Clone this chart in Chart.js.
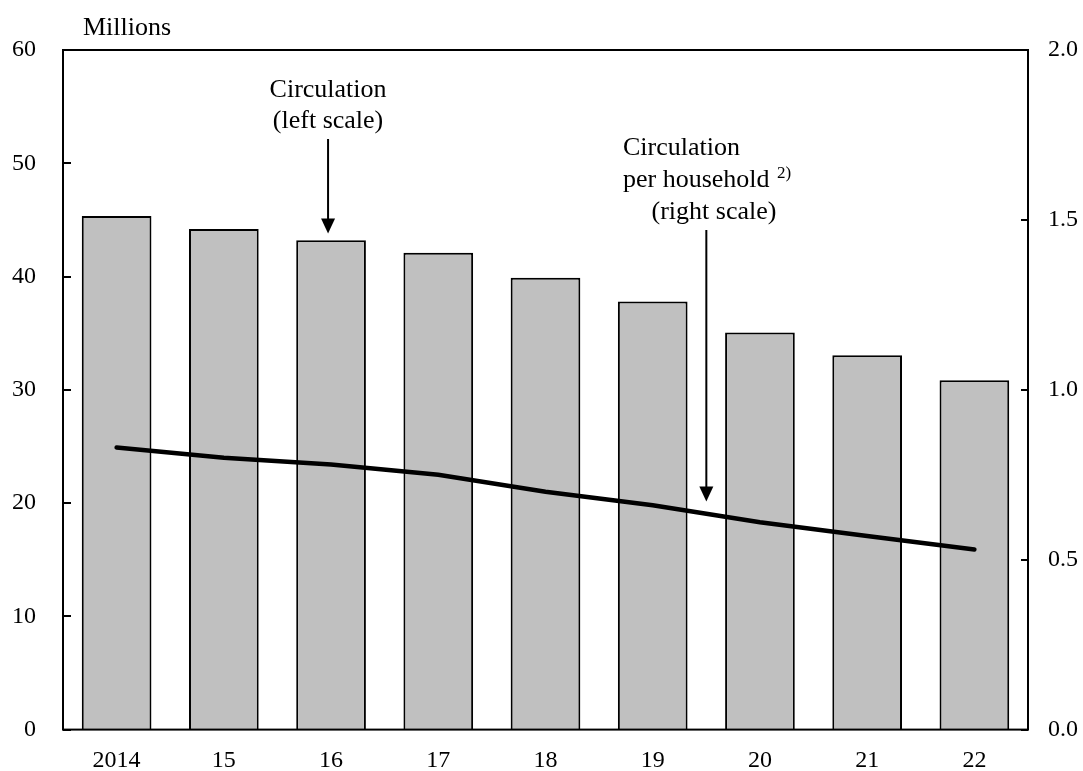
<!DOCTYPE html>
<html>
<head>
<meta charset="utf-8">
<script src="https://cdn.jsdelivr.net/npm/chart.js@4/dist/chart.umd.min.js"></script>
<style>
  html, body { margin: 0; padding: 0; background: #fff; }
  #wrap { width: 1083px; height: 771px; }
</style>
</head>
<body>
<div id="wrap"><canvas id="chart" width="1083" height="771"></canvas></div>
<script>
/* ---- Данные ---- */
const YEARS = ["2014", "15", "16", "17", "18", "19", "20", "21", "22"];
const CIRCULATION = [45.35, 44.2, 43.2, 42.1, 39.9, 37.8, 35.05, 33.05, 30.85];   // млн, левая шкала
const PER_HOUSEHOLD = [0.83, 0.80, 0.78, 0.75, 0.70, 0.66, 0.61, 0.57, 0.53];    // правая шкала
const LEFT_TICKS = [0, 10, 20, 30, 40, 50, 60];
const RIGHT_TICKS = [0, 0.5, 1.0, 1.5, 2.0];

const FONT = "Liberation Serif, Times New Roman, serif";

/* ---- Рамка, засечки внутрь, подписи и стрелки ---- */
const decor = {
  id: "decor",
  afterDraw(chart) {
    const ctx = chart.ctx;
    const a = chart.chartArea;
    const x = chart.scales.x, yl = chart.scales.y, yr = chart.scales.y1;
    ctx.save();
    ctx.strokeStyle = "#000";
    ctx.lineWidth = 2;
    ctx.strokeRect(a.left, a.top, a.right - a.left, a.bottom - a.top);

    // засечки
    LEFT_TICKS.forEach(v => {
      const py = Math.round(yl.getPixelForValue(v));
      ctx.beginPath(); ctx.moveTo(a.left, py); ctx.lineTo(a.left + 8, py); ctx.stroke();
    });
    RIGHT_TICKS.forEach(v => {
      const py = Math.round(yr.getPixelForValue(v));
      ctx.beginPath(); ctx.moveTo(a.right, py); ctx.lineTo(a.right - 7, py); ctx.stroke();
    });

    ctx.fillStyle = "#000";
    ctx.font = "26px " + FONT;
    ctx.textBaseline = "middle";
    ctx.textAlign = "left";
    ctx.fillText("Millions", 83, 28);

    // стрелка 1: Circulation (left scale)
    const x1 = x.getPixelForValue(2) - 3;
    ctx.textAlign = "center";
    ctx.fillText("Circulation", x1, 90);
    ctx.fillText("(left scale)", x1, 121);
    arrow(ctx, x1, 139, yl.getPixelForValue(43.8));

    // стрелка 2: Circulation per household (right scale)
    const x2 = (x.getPixelForValue(5) + x.getPixelForValue(6)) / 2;
    ctx.textAlign = "left";
    ctx.fillText("Circulation", 623, 148);
    ctx.fillText("per household", 623, 180);
    ctx.font = "17px " + FONT;
    ctx.fillText("2)", 777, 174);
    ctx.font = "26px " + FONT;
    ctx.textAlign = "center";
    ctx.fillText("(right scale)", 714, 212);
    arrow(ctx, x2, 230, yr.getPixelForValue(0.671));
    ctx.restore();
  }
};

function arrow(ctx, px, y0, y1) {
  ctx.lineWidth = 2;
  ctx.beginPath(); ctx.moveTo(px, y0); ctx.lineTo(px, y1 - 14); ctx.stroke();
  ctx.beginPath();
  ctx.moveTo(px - 7, y1 - 15);
  ctx.lineTo(px + 7, y1 - 15);
  ctx.lineTo(px, y1);
  ctx.closePath();
  ctx.fill();
}

const tickFont = { family: FONT, size: 24 };

new Chart(document.getElementById("chart"), {
  type: "bar",
  data: {
    labels: YEARS,
    datasets: [
      {
        type: "line", label: "Circulation per household", data: PER_HOUSEHOLD,
        yAxisID: "y1", borderColor: "#000", borderWidth: 4.5, pointRadius: 0,
        tension: 0, borderCapStyle: "round", fill: false, order: 0
      },
      {
        label: "Circulation", data: CIRCULATION, yAxisID: "y",
        backgroundColor: "#c0c0c0", borderColor: "#000", borderWidth: 2,
        categoryPercentage: 1, barPercentage: 0.65, order: 1
      }
    ]
  },
  options: {
    responsive: false, animation: false,
    layout: { padding: { top: 50, left: 0, right: 0, bottom: 0 } },
    plugins: { legend: { display: false }, tooltip: { enabled: false } },
    scales: {
      x: {
        grid: { display: false, drawTicks: false },
        border: { display: false },
        ticks: { color: "#000", font: tickFont, padding: 17, maxRotation: 0 },
        afterFit(s) { s.height = 41; }
      },
      y: {
        position: "left", min: 0, max: 60,
        grid: { display: false, drawTicks: false },
        border: { display: false },
        ticks: { stepSize: 10, color: "#000", font: tickFont, padding: 27 },
        afterFit(s) { s.width = 63; }
      },
      y1: {
        position: "right", min: 0, max: 2,
        grid: { display: false, drawTicks: false },
        border: { display: false },
        ticks: { stepSize: 0.5, color: "#000", font: tickFont, padding: 20,
                 callback: v => v.toFixed(1) },
        afterFit(s) { s.width = 55; }
      }
    }
  },
  plugins: [decor]
});
</script>
</body>
</html>
